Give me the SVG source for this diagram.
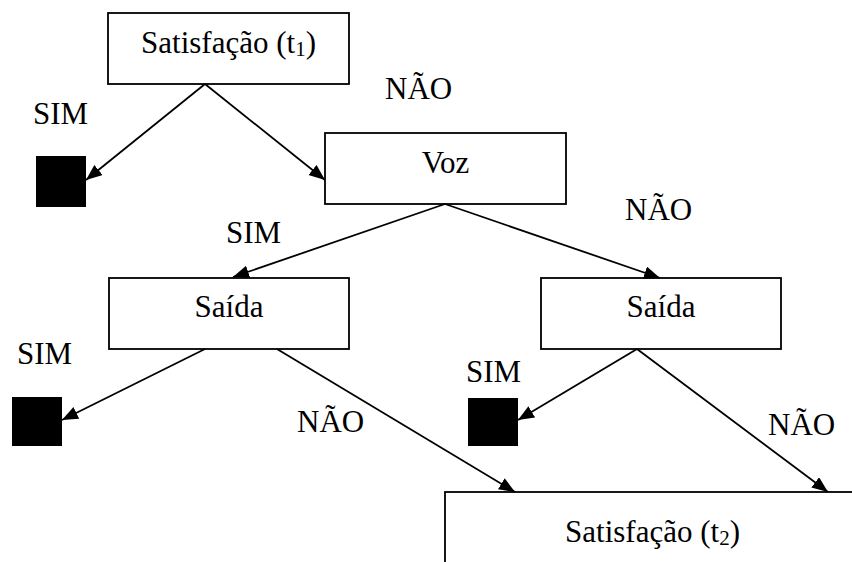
<svg xmlns="http://www.w3.org/2000/svg" width="852" height="562" viewBox="0 0 852 562">
  <style>
    .box { fill: #ffffff; stroke: #000000; stroke-width: 1.8; }
    .end { fill: #000000; stroke: none; }
    text { font-family: 'Liberation Serif', 'Times New Roman', serif; font-size: 31px; fill: #000000; }
    .mid { text-anchor: middle; }
    .sub { font-size: 21px; }
    .edge { stroke: #000000; stroke-width: 1.8; fill: none; marker-end: url(#arrow); }
  </style>
  <defs>
    <marker id="arrow" markerUnits="userSpaceOnUse" markerWidth="18" markerHeight="14" refX="16" refY="6.5" orient="auto">
      <path d="M0,0 L16,6.5 L0,13 z" fill="#000000"/>
    </marker>
  </defs>
  <rect width="852" height="562" fill="#ffffff"/>

  <!-- decision nodes -->
  <g id="satisfacao-t1">
    <rect class="box" x="108" y="13" width="241" height="71"/>
    <text class="mid" x="228.5" y="53">Satisfação (t<tspan class="sub" dy="3">1</tspan><tspan dy="-3">)</tspan></text>
  </g>
  <g id="voz">
    <rect class="box" x="325" y="133" width="241" height="71"/>
    <text class="mid" x="445.5" y="173">Voz</text>
  </g>
  <g id="saida-esq">
    <rect class="box" x="109" y="278" width="240" height="71"/>
    <text class="mid" x="229" y="317">Saída</text>
  </g>
  <g id="saida-dir">
    <rect class="box" x="541" y="278" width="240" height="71"/>
    <text class="mid" x="661" y="317">Saída</text>
  </g>
  <g id="satisfacao-t2">
    <rect class="box" x="445" y="492" width="440" height="100"/>
    <text class="mid" x="652.5" y="542">Satisfação (t<tspan class="sub" dy="3">2</tspan><tspan dy="-3">)</tspan></text>
  </g>

  <!-- terminal (exit) squares -->
  <g id="fim-1"><rect class="end" x="36" y="156" width="50" height="51"/></g>
  <g id="fim-2"><rect class="end" x="12" y="397" width="50" height="49"/></g>
  <g id="fim-3"><rect class="end" x="468" y="398" width="50" height="48"/></g>

  <!-- connectors -->
  <g id="connectors">
    <line class="edge" x1="205" y1="84" x2="86" y2="180"/>
    <line class="edge" x1="205" y1="84" x2="325" y2="180"/>
    <line class="edge" x1="445" y1="204" x2="233" y2="277"/>
    <line class="edge" x1="445" y1="204" x2="660" y2="278"/>
    <line class="edge" x1="205" y1="349" x2="62" y2="420"/>
    <line class="edge" x1="277" y1="349" x2="515" y2="492"/>
    <line class="edge" x1="637" y1="349" x2="518" y2="420"/>
    <line class="edge" x1="637" y1="349" x2="828" y2="492"/>
  </g>

  <!-- branch labels -->
  <g id="labels">
    <text x="33" y="124">SIM</text>
    <text x="385" y="99">NÃO</text>
    <text x="226" y="243">SIM</text>
    <text x="625" y="220">NÃO</text>
    <text x="17" y="364">SIM</text>
    <text x="297" y="432">NÃO</text>
    <text x="466" y="382">SIM</text>
    <text x="768" y="435">NÃO</text>
  </g>
</svg>
